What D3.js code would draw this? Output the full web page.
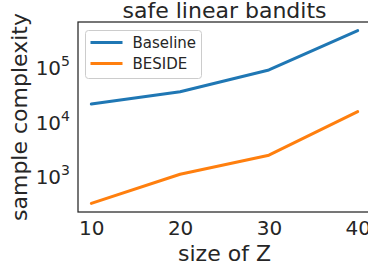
<!DOCTYPE html>
<html>
<head>
<meta charset="utf-8">
<script src="https://cdn.jsdelivr.net/npm/d3@7"></script>
<style>
  html, body { margin: 0; padding: 0; background: #fff; }
  svg { display: block; font-family: "DejaVu Sans", sans-serif; }
</style>
</head>
<body>
<svg id="drawing_region"></svg>
<script>
// data
const sizes = [10, 20, 30, 40];
const baseline = [22000, 37000, 93000, 490000];
const beside = [330, 1130, 2530, 16000];
const seriesNames = ['Baseline', 'BESIDE'];
const seriesColors = ['#1f77b4', '#ff7f0e'];
const yTickPowers = [3, 4, 5];

const config = {
    width: 368,
    height: 268,
    margin: {top: 22, right: -3, bottom: 56, left: 78}
};

const svg = d3.select('#drawing_region')
    .attr('width', config.width)
    .attr('height', config.height);

const inner_width = config.width - config.margin.left - config.margin.right;
const inner_height = config.height - config.margin.top - config.margin.bottom;
const text_color = '#262626';

const chart = svg.append('g')
    .attr('transform', `translate(${config.margin.left}, ${config.margin.top})`);

// matplotlib style 5% margins
const xpad = (d3.max(sizes) - d3.min(sizes)) * 0.05;
const xscale = d3.scaleLinear()
    .domain([d3.min(sizes) - xpad, d3.max(sizes) + xpad])
    .range([0, inner_width]);

const allVals = baseline.concat(beside);
const lmin = Math.log10(d3.min(allVals)), lmax = Math.log10(d3.max(allVals));
const lpad = (lmax - lmin) * 0.05;
const yscale = d3.scaleLog()
    .domain([Math.pow(10, lmin - lpad), Math.pow(10, lmax + lpad)])
    .range([inner_height, 0]);

// lines
const series = [baseline, beside];
const line = d3.line()
    .x((d, i) => xscale(sizes[i]))
    .y(d => yscale(d));

series.forEach((s, k) => {
    chart.append('path')
        .attr('d', line(s))
        .attr('fill', 'none')
        .attr('stroke', seriesColors[k])
        .attr('stroke-width', 3)
        .attr('stroke-linecap', 'round')
        .attr('stroke-linejoin', 'round');
});

// frame
chart.append('rect')
    .attr('x', 0).attr('y', 0)
    .attr('width', inner_width).attr('height', inner_height)
    .attr('fill', 'none')
    .attr('stroke', text_color)
    .attr('stroke-width', 1.25);

// x axis
const xaxis = d3.axisBottom(xscale)
    .tickValues(sizes)
    .tickSize(0)
    .tickPadding(9);
const xg = chart.append('g')
    .attr('transform', `translate(0, ${inner_height})`)
    .call(xaxis);
xg.select('.domain').remove();
xg.selectAll('text')
    .attr('fill', text_color)
    .style('font-size', '20px')
    .style('font-family', '"DejaVu Sans", sans-serif');

// y axis, 10^n labels
const yg = chart.append('g');
yTickPowers.forEach(p => {
    const t = yg.append('text')
        .attr('x', -8)
        .attr('y', yscale(Math.pow(10, p)) + 7)
        .attr('text-anchor', 'end')
        .attr('fill', text_color)
        .style('font-size', '20px');
    t.append('tspan').text('10');
    t.append('tspan').attr('dy', -9).style('font-size', '14px').text(p);
});

// axis labels and title
svg.append('text')
    .attr('x', config.margin.left + xscale(25))
    .attr('y', 261)
    .attr('text-anchor', 'middle')
    .attr('fill', text_color)
    .style('font-size', '22px')
    .text('size of Z');

svg.append('text')
    .attr('transform', `translate(27, ${config.margin.top + inner_height / 2}) rotate(-90)`)
    .attr('text-anchor', 'middle')
    .attr('fill', text_color)
    .style('font-size', '22px')
    .text('sample complexity');

svg.append('text')
    .attr('x', config.margin.left + xscale(25))
    .attr('y', 18)
    .attr('text-anchor', 'middle')
    .attr('fill', text_color)
    .style('font-size', '22px')
    .text('safe linear bandits');

// legend
const legend = chart.append('g').attr('transform', 'translate(7.5, 8.5)');
legend.append('rect')
    .attr('width', 116).attr('height', 48)
    .attr('rx', 3)
    .attr('fill', '#fff').attr('fill-opacity', 0.8)
    .attr('stroke', '#cccccc');
seriesNames.forEach((name, k) => {
    const y = 12 + k * 21;
    legend.append('line')
        .attr('x1', 5).attr('x2', 37)
        .attr('y1', y).attr('y2', y)
        .attr('stroke', seriesColors[k])
        .attr('stroke-width', 3);
    legend.append('text')
        .attr('x', 47).attr('y', y + 5.5)
        .attr('fill', text_color)
        .style('font-size', '15px')
        .text(name);
});
</script>
</body>
</html>
